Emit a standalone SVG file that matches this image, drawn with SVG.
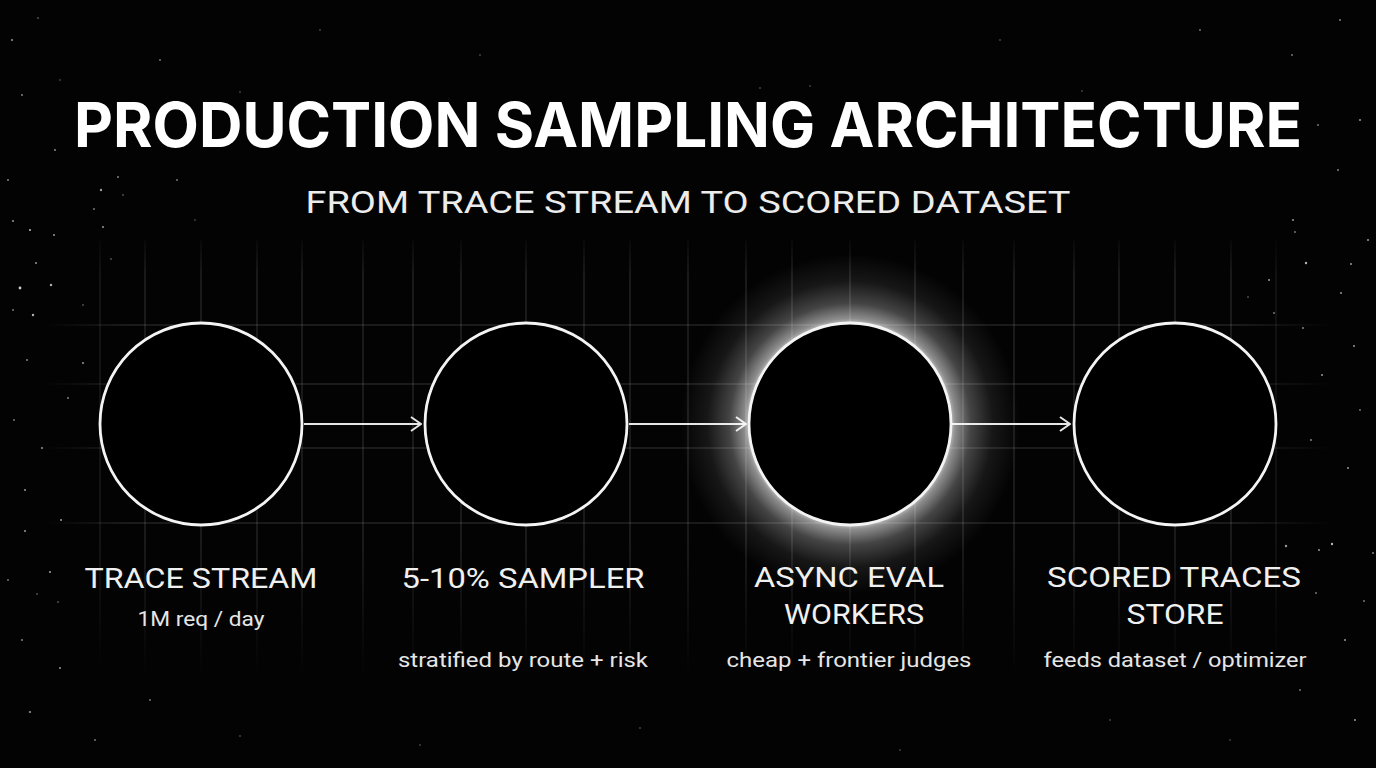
<svg xmlns="http://www.w3.org/2000/svg" width="1376" height="768" viewBox="0 0 1376 768">
  <defs>
    <style>
      .title{font-family:Inter,"Liberation Sans",Arial,sans-serif;font-weight:700;fill:#ffffff}
      .sub{font-family:Roboto,"Liberation Sans",Arial,sans-serif;font-weight:400;fill:#ececec}
      .lbl{font-family:Roboto,"Liberation Sans",Arial,sans-serif;font-weight:400;fill:#f0f0f0;font-size:28px;text-anchor:middle}
      .note{font-family:Roboto,"Liberation Sans",Arial,sans-serif;font-weight:400;fill:#e6e6e6;font-size:21px;text-anchor:middle}
      .node{fill:#000;stroke:#f4f4f4;stroke-width:2.8}
      .edge{stroke:#e6e6e6;stroke-width:2;fill:none}
      .grid line{stroke:#ffffff;stroke-opacity:0.22;stroke-width:1}
      .star{fill:#ffffff}
    </style>
    <marker id="arr" viewBox="0 0 12 16" refX="11" refY="8" markerWidth="12" markerHeight="16" markerUnits="userSpaceOnUse" orient="auto">
      <path d="M1,1 L11,8 L1,15" fill="none" stroke="#e6e6e6" stroke-width="2"/>
    </marker>
    <radialGradient id="glow" cx="850" cy="424" r="170" gradientUnits="userSpaceOnUse">
      <stop offset="0.57" stop-color="#fff" stop-opacity="0.9"/>
      <stop offset="0.62" stop-color="#fff" stop-opacity="0.55"/>
      <stop offset="0.71" stop-color="#fff" stop-opacity="0.26"/>
      <stop offset="0.84" stop-color="#fff" stop-opacity="0.08"/>
      <stop offset="1" stop-color="#fff" stop-opacity="0"/>
    </radialGradient>
    <linearGradient id="fadeH" x1="0" y1="0" x2="1376" y2="0" gradientUnits="userSpaceOnUse">
      <stop offset="0.03" stop-color="#fff" stop-opacity="0"/>
      <stop offset="0.09" stop-color="#fff" stop-opacity="1"/>
      <stop offset="0.9" stop-color="#fff" stop-opacity="1"/>
      <stop offset="0.97" stop-color="#fff" stop-opacity="0"/>
    </linearGradient>
    <linearGradient id="fadeV" x1="0" y1="230" x2="0" y2="680" gradientUnits="userSpaceOnUse">
      <stop offset="0" stop-color="#fff" stop-opacity="0"/>
      <stop offset="0.1" stop-color="#fff" stop-opacity="0.85"/>
      <stop offset="0.7" stop-color="#fff" stop-opacity="0.85"/>
      <stop offset="1" stop-color="#fff" stop-opacity="0"/>
    </linearGradient>
    <mask id="mH"><rect x="0" y="0" width="1376" height="768" fill="url(#fadeH)"/></mask>
    <mask id="mV"><rect x="0" y="0" width="1376" height="768" fill="url(#fadeV)"/></mask>
  </defs>

  <rect width="1376" height="768" fill="#030303"/>

  <g id="stars" class="star">
    <circle cx="12" cy="40" r="1" opacity="0.6"/><circle cx="38" cy="18" r="0.8" opacity="0.5"/>
    <circle cx="22" cy="95" r="1" opacity="0.5"/><circle cx="55" cy="150" r="0.9" opacity="0.6"/>
    <circle cx="8" cy="180" r="1" opacity="0.5"/><circle cx="30" cy="230" r="1.1" opacity="0.7"/>
    <circle cx="13" cy="221" r="1" opacity="0.6"/><circle cx="54" cy="235" r="1" opacity="0.6"/>
    <circle cx="36" cy="263" r="1" opacity="0.6"/><circle cx="51" cy="285" r="1.2" opacity="0.7"/>
    <circle cx="20" cy="288" r="1.4" opacity="0.8"/><circle cx="103" cy="227" r="1" opacity="0.6"/>
    <circle cx="111" cy="259" r="0.8" opacity="0.5"/><circle cx="33" cy="315" r="1.2" opacity="0.7"/>
    <circle cx="13" cy="310" r="0.9" opacity="0.5"/><circle cx="83" cy="305" r="0.8" opacity="0.5"/>
    <circle cx="27" cy="360" r="1" opacity="0.5"/><circle cx="83" cy="363" r="1" opacity="0.6"/>
    <circle cx="68" cy="398" r="1" opacity="0.5"/><circle cx="14" cy="420" r="0.9" opacity="0.5"/>
    <circle cx="42" cy="448" r="1" opacity="0.6"/><circle cx="25" cy="490" r="1" opacity="0.6"/>
    <circle cx="61" cy="520" r="1" opacity="0.6"/><circle cx="25" cy="531" r="1" opacity="0.6"/>
    <circle cx="8" cy="580" r="0.9" opacity="0.5"/><circle cx="50" cy="572" r="1.1" opacity="0.6"/>
    <circle cx="37" cy="594" r="0.8" opacity="0.5"/><circle cx="58" cy="602" r="0.8" opacity="0.5"/>
    <circle cx="22" cy="640" r="1" opacity="0.5"/><circle cx="60" cy="668" r="1" opacity="0.6"/>
    <circle cx="30" cy="712" r="1.1" opacity="0.6"/><circle cx="95" cy="740" r="0.9" opacity="0.5"/>
    <circle cx="150" cy="700" r="0.9" opacity="0.5"/><circle cx="240" cy="736" r="0.8" opacity="0.4"/>
    <circle cx="118" cy="177" r="1" opacity="0.5"/><circle cx="101" cy="190" r="1.2" opacity="0.6"/>
    <circle cx="177" cy="180" r="0.9" opacity="0.5"/><circle cx="94" cy="209" r="0.9" opacity="0.5"/>
    <circle cx="123" cy="195" r="0.8" opacity="0.5"/><circle cx="195" cy="220" r="0.8" opacity="0.4"/>
    <circle cx="240" cy="92" r="0.8" opacity="0.4"/><circle cx="160" cy="60" r="0.9" opacity="0.5"/>
    <circle cx="60" cy="80" r="0.8" opacity="0.4"/><circle cx="320" cy="30" r="0.8" opacity="0.4"/>
    <circle cx="480" cy="55" r="0.8" opacity="0.4"/><circle cx="760" cy="88" r="0.8" opacity="0.4"/>
    <circle cx="810" cy="86" r="0.8" opacity="0.4"/><circle cx="1082" cy="91" r="0.8" opacity="0.4"/>
    <circle cx="1000" cy="40" r="0.8" opacity="0.4"/><circle cx="1200" cy="30" r="0.9" opacity="0.5"/>
    <circle cx="1292" cy="55" r="0.9" opacity="0.5"/><circle cx="1340" cy="20" r="1" opacity="0.5"/>
    <circle cx="1360" cy="120" r="1" opacity="0.6"/><circle cx="1318" cy="125" r="0.9" opacity="0.5"/>
    <circle cx="1338" cy="170" r="1" opacity="0.5"/><circle cx="1293" cy="220" r="1" opacity="0.6"/>
    <circle cx="1295" cy="232" r="0.9" opacity="0.5"/><circle cx="1306" cy="263" r="1.2" opacity="0.7"/>
    <circle cx="1351" cy="264" r="1" opacity="0.6"/><circle cx="1269" cy="280" r="1" opacity="0.6"/>
    <circle cx="1341" cy="293" r="1" opacity="0.6"/><circle cx="1248" cy="297" r="0.8" opacity="0.5"/>
    <circle cx="1274" cy="313" r="0.9" opacity="0.5"/><circle cx="1368" cy="240" r="1" opacity="0.6"/>
    <circle cx="1303" cy="328" r="1" opacity="0.5"/><circle cx="1354" cy="346" r="1" opacity="0.6"/>
    <circle cx="1322" cy="375" r="1" opacity="0.6"/><circle cx="1360" cy="410" r="0.9" opacity="0.5"/>
    <circle cx="1311" cy="440" r="1" opacity="0.5"/><circle cx="1348" cy="468" r="1" opacity="0.6"/>
    <circle cx="1286" cy="546" r="1.2" opacity="0.6"/><circle cx="1332" cy="544" r="1.2" opacity="0.7"/>
    <circle cx="1319" cy="550" r="1" opacity="0.6"/><circle cx="1373" cy="553" r="1" opacity="0.5"/>
    <circle cx="1316" cy="593" r="0.9" opacity="0.5"/><circle cx="1364" cy="601" r="0.9" opacity="0.5"/>
    <circle cx="1345" cy="640" r="1" opacity="0.6"/><circle cx="1300" cy="690" r="0.9" opacity="0.5"/>
    <circle cx="1355" cy="720" r="1" opacity="0.6"/><circle cx="1230" cy="740" r="0.8" opacity="0.4"/>
    <circle cx="1110" cy="720" r="0.8" opacity="0.4"/><circle cx="640" cy="728" r="0.8" opacity="0.4"/>
    <circle cx="420" cy="745" r="0.8" opacity="0.4"/><circle cx="900" cy="750" r="0.8" opacity="0.4"/>
  </g>

  <g id="grid" class="grid" mask="url(#mH)">
    <g mask="url(#mV)">
      <line x1="100" y1="240" x2="100" y2="680"/><line x1="145" y1="240" x2="145" y2="680"/>
      <line x1="201" y1="240" x2="201" y2="680"/><line x1="257" y1="240" x2="257" y2="680"/>
      <line x1="302" y1="240" x2="302" y2="680"/><line x1="363" y1="240" x2="363" y2="680"/>
      <line x1="413" y1="240" x2="413" y2="680"/><line x1="461" y1="240" x2="461" y2="680"/>
      <line x1="526" y1="240" x2="526" y2="680"/><line x1="584" y1="240" x2="584" y2="680"/>
      <line x1="630" y1="240" x2="630" y2="680"/><line x1="688" y1="240" x2="688" y2="680"/>
      <line x1="746" y1="240" x2="746" y2="680"/><line x1="792" y1="240" x2="792" y2="680"/>
      <line x1="850" y1="240" x2="850" y2="680"/><line x1="915" y1="240" x2="915" y2="680"/>
      <line x1="963" y1="240" x2="963" y2="680"/><line x1="1014" y1="240" x2="1014" y2="680"/>
      <line x1="1074" y1="240" x2="1074" y2="680"/><line x1="1119" y1="240" x2="1119" y2="680"/>
      <line x1="1175" y1="240" x2="1175" y2="680"/><line x1="1231" y1="240" x2="1231" y2="680"/>
      <line x1="1276" y1="240" x2="1276" y2="680"/>
      <line x1="40" y1="325" x2="1336" y2="325"/><line x1="40" y1="384" x2="1336" y2="384"/>
      <line x1="40" y1="448" x2="1336" y2="448"/><line x1="40" y1="523" x2="1336" y2="523"/>
    </g>
  </g>

  <g id="heading">
    <text class="title" x="688" y="147" font-size="62" text-anchor="middle" textLength="1228" lengthAdjust="spacingAndGlyphs">PRODUCTION SAMPLING ARCHITECTURE</text>
    <text class="sub" x="688" y="213" font-size="32" text-anchor="middle" textLength="765" lengthAdjust="spacingAndGlyphs">FROM TRACE STREAM TO SCORED DATASET</text>
  </g>

  <g id="connectors">
    <line class="edge" x1="304" y1="424" x2="421" y2="424" marker-end="url(#arr)"/>
    <line class="edge" x1="629" y1="424" x2="746" y2="424" marker-end="url(#arr)"/>
    <line class="edge" x1="952" y1="424" x2="1070" y2="424" marker-end="url(#arr)"/>
  </g>

  <g id="node-trace-stream">
    <circle class="node" cx="201" cy="424" r="101"/>
    <text class="lbl" x="201" y="588" textLength="233" lengthAdjust="spacingAndGlyphs">TRACE STREAM</text>
    <text class="note" x="201" y="626" textLength="127" lengthAdjust="spacingAndGlyphs">1M req / day</text>
  </g>

  <g id="node-sampler">
    <circle class="node" cx="526" cy="424" r="101"/>
    <text class="lbl" x="523" y="588" textLength="243" lengthAdjust="spacingAndGlyphs">5-10% SAMPLER</text>
    <text class="note" x="523" y="667" textLength="250" lengthAdjust="spacingAndGlyphs">stratified by route + risk</text>
  </g>

  <g id="node-async-eval">
    <circle cx="850" cy="424" r="170" fill="url(#glow)"/>
    <circle class="node" cx="850" cy="424" r="101"/>
    <text class="lbl" x="849" y="587" textLength="190" lengthAdjust="spacingAndGlyphs">ASYNC EVAL</text>
    <text class="lbl" x="854" y="624" textLength="140" lengthAdjust="spacingAndGlyphs">WORKERS</text>
    <text class="note" x="849" y="667" textLength="245" lengthAdjust="spacingAndGlyphs">cheap + frontier judges</text>
  </g>

  <g id="node-scored-store">
    <circle class="node" cx="1175" cy="424" r="101"/>
    <text class="lbl" x="1174" y="587" textLength="254" lengthAdjust="spacingAndGlyphs">SCORED TRACES</text>
    <text class="lbl" x="1175" y="624" textLength="97" lengthAdjust="spacingAndGlyphs">STORE</text>
    <text class="note" x="1175" y="667" textLength="263" lengthAdjust="spacingAndGlyphs">feeds dataset / optimizer</text>
  </g>
</svg>
